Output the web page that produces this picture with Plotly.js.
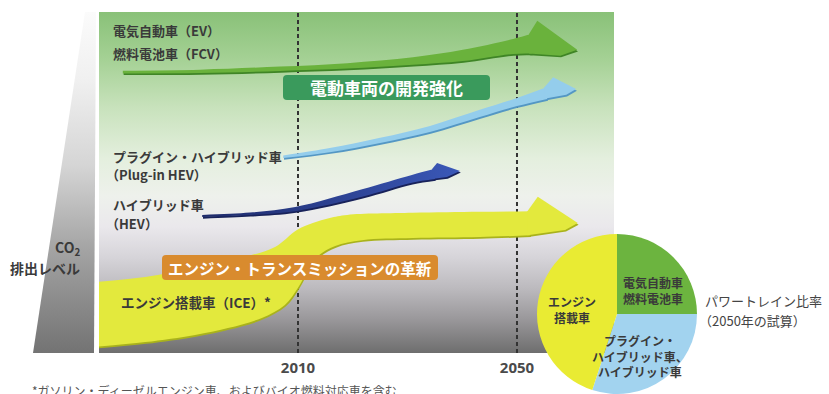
<!DOCTYPE html>
<html><head><meta charset="utf-8">
<script src="https://cdn.plot.ly/plotly-3.0.1.min.js"></script>
<style>html,body{margin:0;padding:0;background:#fff}#chart{width:829px;height:394px}</style>
</head><body><div id="chart"></div>
<script>
// ---------------- data ----------------
const tickYears = [2010, 2050];
const tickLabels = ['2010', '2050'];

// 電気自動車（EV）/ 燃料電池車（FCV）
const evYears = [1978.0, 1992.1, 2006.7, 2019.0, 2031.0, 2040.1, 2049.3, 2052.7];
const evUpper = [82.8, 83.1, 84.0, 85.0, 86.7, 88.9, 92.1, 93.6];
const evLower = [82.0, 82.1, 82.7, 83.4, 84.5, 85.6, 87.7, 87.8];
const evHeadX = [2053.7, 2061.0, 2057.9];
const evHeadY = [97.4, 88.9, 87.2];

// プラグイン・ハイブリッド車（Plug-in HEV）
const phevYears = [2007.3, 2015.8, 2025.0, 2034.1, 2043.2, 2050.0, 2055.5];
const phevUpper = [57.9, 60.1, 63.1, 66.6, 71.3, 74.8, 78.0];
const phevLower = [57.2, 58.9, 61.6, 64.8, 69.2, 72.4, 74.5];
const phevHeadX = [2056.6, 2060.8, 2059.0];
const phevHeadY = [80.9, 77.4, 75.7];

// ハイブリッド車（HEV）
const hevYears = [1992.5, 2001.2, 2009.5, 2021.7, 2030.8, 2035.0];
const hevUpper = [40.5, 41.2, 42.8, 48.0, 52.2, 54.0];
const hevLower = [39.9, 40.5, 41.6, 45.8, 49.9, 51.0];
const hevHeadX = [2035.4, 2039.6, 2037.2];
const hevHeadY = [55.7, 53.4, 51.6];

// エンジン搭載車（ICE）
const iceUpperYears = [1972.9, 1982.1, 1991.2, 2000.3, 2005.8, 2009.8, 2012.7, 2015.8, 2019.0, 2031.0, 2043.2, 2052.4];
const iceUpper = [20.8, 22.3, 24.9, 28.2, 31.1, 36.1, 38.1, 39.6, 40.5, 41.1, 41.4, 41.6];
const iceLowerYears = [1972.9, 1982.1, 1991.2, 1997.2, 2003.4, 2007.6, 2010.0, 2011.8, 2013.7, 2016.8, 2021.7, 2031.0, 2043.2, 2052.4];
const iceLower = [1.8, 3.2, 5.3, 7.3, 10.3, 14.1, 19.1, 24.3, 28.5, 31.4, 33.1, 33.7, 34.0, 34.5];
const iceHeadX = [2053.8, 2061.1, 2058.8];
const iceHeadY = [45.8, 38.1, 36.1];

// パワートレイン比率（2050年の試算）
const pieLabels = ['電気自動車<br>燃料電池車', 'プラグイン・<br>ハイブリッド車、<br>ハイブリッド車', 'エンジン<br>搭載車'];
const pieValues = [25, 30, 45];

// ---------------- drawing ----------------
const W = 829, H = 394;
const JP = '"Noto Sans CJK JP", "Noto Sans", sans-serif';
const xRange = [1973.65, 2067.72];
const yRange = [0, 100];

// a band = lower edge (no fill) followed by upper edge filled to it
function band(ux, uy, lx, ly, color, dx, dy, grad) {
  const lower = {type: 'scatter', mode: 'lines', x: lx.map(v => v + dx), y: ly.map(v => v + dy),
    line: {width: 0, shape: 'spline', smoothing: 1, color}, hoverinfo: 'skip'};
  const upper = {type: 'scatter', mode: 'lines', x: ux.map(v => v + dx), y: uy.map(v => v + dy),
    fill: 'tonexty', fillcolor: color, line: {width: 0, shape: 'spline', smoothing: 1, color}, hoverinfo: 'skip'};
  if (grad) upper.fillgradient = grad;
  return [lower, upper];
}
function head(ux, uy, lx, ly, hx, hy, color, dx, dy, grad) {
  const n = ux.length, m = lx.length;
  const x = [ux[n - 1] - 0.5, hx[0], hx[1], hx[2], lx[m - 1] - 0.5].map(v => v + dx);
  const y = [uy[n - 1] - 0.05, hy[0], hy[1], hy[2], ly[m - 1] + 0.05].map(v => v + dy);
  const t = {type: 'scatter', mode: 'lines', x, y, fill: 'toself', fillcolor: color,
    line: {width: 0, color}, hoverinfo: 'skip'};
  if (grad) t.fillgradient = grad;
  return t;
}
function arrow(ux, uy, lx, ly, hx, hy, main, shadow, grad) {
  return [
    ...band(ux, uy, lx, ly, shadow, 0.15, -0.5),
    head(ux, uy, lx, ly, hx, hy, shadow, 0.15, -0.5),
    ...band(ux, uy, lx, ly, main, 0, 0, grad),
    head(ux, uy, lx, ly, hx, hy, main, 0, 0, grad)
  ];
}

const traces = [];
// background gradient panel
traces.push({type: 'scatter', mode: 'lines', x: [xRange[0], xRange[1], xRange[1], xRange[0]],
  y: [yRange[0], yRange[0], yRange[1], yRange[1]], fill: 'toself', line: {width: 0},
  fillgradient: {type: 'vertical', start: 0, stop: 100, colorscale: [
    [0, '#6e6e6e'], [0.1, '#9a989b'], [0.19, '#bcbabe'], [0.28, '#d6d4d9'], [0.37, '#eae8ec'],
    [0.46, '#eef1ec'], [0.57, '#e4efde'], [0.72, '#c8e2bc'], [0.86, '#a5d195'], [1, '#89c178']]},
  hoverinfo: 'skip'});
// CO2 level wedge
traces.push({type: 'scatter', mode: 'lines', xaxis: 'x2', yaxis: 'y', x: [33, 94, 96, 85], y: [0, 0, 100, 100],
  fill: 'toself', line: {width: 0},
  fillgradient: {type: 'vertical', start: 0, stop: 100, colorscale: [
    [0, '#737373'], [0.3, '#a3a3a3'], [0.55, '#d5d5d5'], [0.8, '#f0f0f0'], [1, '#fbfbfb']]},
  hoverinfo: 'skip'});
// year guide lines
tickYears.forEach(yr => traces.push({type: 'scatter', mode: 'lines', x: [yr, yr], y: yRange,
  line: {color: '#333333', width: 2, dash: '4px,3px'}, hoverinfo: 'skip'}));
// arrows
traces.push(...arrow(iceUpperYears, iceUpper, iceLowerYears, iceLower, iceHeadX, iceHeadY, '#e3e93d', '#a9b21c'));
traces.push(...arrow(hevYears, hevUpper, hevYears, hevLower, hevHeadX, hevHeadY, '#2c3f98', '#18225a',
  {type: 'horizontal', start: hevYears[0], stop: hevHeadX[1], colorscale: [[0, '#1e2a6a'], [1, '#3a58b8']]}));
traces.push(...arrow(phevYears, phevUpper, phevYears, phevLower, phevHeadX, phevHeadY, '#94cdec', '#5497c4'));
traces.push(...arrow(evYears, evUpper, evYears, evLower, evHeadX, evHeadY, '#6ab23c', '#3f8526'));
// pie
traces.push({type: 'pie', values: pieValues, labels: pieLabels, sort: false, direction: 'clockwise', rotation: 0,
  marker: {colors: ['#6cb43f', '#a2d3ef', '#e9eb33'], line: {width: 0}}, textinfo: 'none', hoverinfo: 'skip',
  domain: {x: [537 / W, 697 / W], y: [0, 160 / H]}, automargin: false});

// rounded label boxes
function rbox(x0, y0, x1, y1, r, color) {
  const X = v => (v / W).toFixed(5), Y = v => (1 - v / H).toFixed(5);
  const p = `M${X(x0 + r)},${Y(y0)} L${X(x1 - r)},${Y(y0)} Q${X(x1)},${Y(y0)} ${X(x1)},${Y(y0 + r)} ` +
    `L${X(x1)},${Y(y1 - r)} Q${X(x1)},${Y(y1)} ${X(x1 - r)},${Y(y1)} L${X(x0 + r)},${Y(y1)} ` +
    `Q${X(x0)},${Y(y1)} ${X(x0)},${Y(y1 - r)} L${X(x0)},${Y(y0 + r)} Q${X(x0)},${Y(y0)} ${X(x0 + r)},${Y(y0)} Z`;
  return {type: 'path', xref: 'paper', yref: 'paper', path: p, fillcolor: color, line: {width: 0}, layer: 'above'};
}
const shapes = [rbox(283, 75, 490, 100, 4, '#3a9a5c'), rbox(162, 255, 438, 280, 4, '#d98b2e')];

function ann(text, px, py, o) {
  return Object.assign({xref: 'paper', yref: 'paper', x: px / W, y: 1 - py / H, text, showarrow: false,
    xanchor: 'left', yanchor: 'middle', font: {family: JP, size: 13, color: '#3a3a3a', weight: 'bold'}}, o || {});
}
const annotations = [
  ann('電気自動車（EV）', 111, 31),
  ann('燃料電池車（FCV）', 111, 53),
  ann('プラグイン・ハイブリッド車', 111, 157),
  ann('（Plug-in HEV）', 104, 175),
  ann('ハイブリッド車', 111, 205),
  ann('（HEV）', 104, 223),
  ann('CO<sub>2</sub>', 82, 248, {xanchor: 'right', font: {family: JP, size: 14, color: '#3a3a3a', weight: 'bold'}}),
  ann('排出レベル', 82, 268, {xanchor: 'right', font: {family: JP, size: 14, color: '#3a3a3a', weight: 'bold'}}),
  ann('エンジン搭載車（ICE）*', 119, 302, {font: {family: JP, size: 13.5, color: '#3a3a3a', weight: 'bold'}}),
  ann('電動車両の開発強化', 386.5, 87.5, {xanchor: 'center',
    font: {family: JP, size: 17, color: '#ffffff', weight: 'bold'}}),
  ann('エンジン・トランスミッションの革新', 300, 267.5, {xanchor: 'center',
    font: {family: JP, size: 15.5, color: '#ffffff', weight: 'bold'}}),
  ann(pieLabels[0], 653, 290, {xanchor: 'center', align: 'center', font: {family: JP, size: 12, color: '#3a3a3a', weight: 'bold'}}),
  ann(pieLabels[1], 640, 356, {xanchor: 'center', align: 'center', font: {family: JP, size: 12, color: '#3a3a3a', weight: 'bold'}}),
  ann(pieLabels[2], 572, 309.5, {xanchor: 'center', align: 'center', font: {family: JP, size: 12, color: '#3a3a3a', weight: 'bold'}}),
  ann('パワートレイン比率', 703, 300, {font: {family: JP, size: 13, color: '#444444'}}),
  ann('（2050年の試算）', 697, 320, {font: {family: JP, size: 13, color: '#444444'}}),
  ann('*ガソリン・ディーゼルエンジン車、およびバイオ燃料対応車を含む', 30, 390, {font: {family: JP, size: 12, color: '#555555'}})
];

const layout = {
  width: W, height: H, margin: {l: 0, r: 0, t: 0, b: 0, pad: 0},
  paper_bgcolor: '#ffffff', plot_bgcolor: 'rgba(0,0,0,0)', showlegend: false, hovermode: false,
  xaxis: {domain: [99 / W, 614 / W], range: xRange, showgrid: false, zeroline: false, showline: false,
    tickvals: tickYears, ticktext: tickLabels, ticks: '', ticklabelstandoff: 4,
    tickfont: {family: '"Noto Sans", sans-serif', size: 15, color: '#4a4a4a', weight: 'bold'}},
  yaxis: {domain: [41 / H, 382 / H], range: yRange, visible: false},
  xaxis2: {domain: [0, 99 / W], range: [0, 99], visible: false, anchor: 'y'},
  shapes, annotations
};
Plotly.newPlot('chart', traces, layout, {staticPlot: true, displayModeBar: false});
</script></body></html>
